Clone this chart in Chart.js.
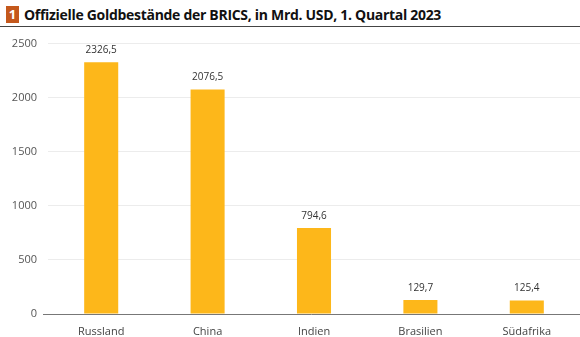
<!DOCTYPE html>
<html lang="de">
<head>
<meta charset="utf-8">
<script src="https://cdn.jsdelivr.net/npm/chart.js@4/dist/chart.umd.min.js"></script>
<style>
  body { margin: 0; background: #fff; width: 580px; height: 337px; overflow: hidden; font-family: "Open Sans", sans-serif; }
  #title { position: absolute; left: 6px; top: 4px; height: 20px; display: flex; align-items: center; white-space: nowrap; }
  #title .num { display: inline-block; width: 13px; height: 17px; background: #c4581c; color: #fff; font-weight: bold; font-size: 13px; line-height: 17px; text-align: center; margin-right: 5px; }
  #title .txt { font-weight: bold; font-size: 14px; color: #111; letter-spacing: -0.3px; }
  #rule { position: absolute; left: 0; top: 26px; width: 580px; height: 1px; background: #444; }
  #wrap { position: absolute; left: 0; top: 26px; width: 580px; height: 311px; }
</style>
</head>
<body>
<div id="title"><span class="num">1</span><span class="txt">Offizielle Goldbestände der BRICS, in Mrd. USD, 1. Quartal 2023</span></div>
<div id="rule"></div>
<div id="wrap"><canvas id="chart"></canvas></div>
<script>
const countries = ['Russland', 'China', 'Indien', 'Brasilien', 'Südafrika'];
const goldReserves = [2326.5, 2076.5, 794.6, 129.7, 125.4];
const yTicks = [0, 500, 1000, 1500, 2000, 2500];

const fmt = v => v.toFixed(1).replace('.', ',');

// value labels above each bar
const valueLabels = {
    id: 'valueLabels',
    afterDatasetsDraw(chart) {
        const ctx = chart.ctx;
        const meta = chart.getDatasetMeta(0);
        ctx.save();
        ctx.font = '10px "Open Sans"';
        ctx.fillStyle = '#333';
        ctx.textAlign = 'center';
        ctx.textBaseline = 'bottom';
        meta.data.forEach((bar, i) => {
            ctx.fillText(fmt(goldReserves[i]), bar.x, bar.y - 7);
        });
        ctx.restore();
    }
};

// baseline, a bit longer than the grid lines
const baseLine = {
    id: 'baseLine',
    afterDatasetsDraw(chart) {
        const ctx = chart.ctx;
        const y = chart.scales.y.getPixelForValue(0);
        ctx.save();
        ctx.strokeStyle = '#777';
        ctx.lineWidth = 1;
        ctx.beginPath();
        ctx.moveTo(43, Math.round(y) + 0.5);
        ctx.lineTo(chart.chartArea.right, Math.round(y) + 0.5);
        ctx.stroke();
        ctx.restore();
    }
};

new Chart(document.getElementById('chart'), {
    type: 'bar',
    data: {
        labels: countries,
        datasets: [{
            data: goldReserves,
            backgroundColor: '#fdb71a',
            categoryPercentage: 1,
            barPercentage: 0.32
        }]
    },
    options: {
        responsive: true,
        maintainAspectRatio: false,
        animation: false,
        layout: { padding: { top: 9, right: 0, left: 0, bottom: 0 } },
        plugins: { legend: { display: false }, tooltip: { enabled: false } },
        scales: {
            x: {
                grid: { display: false },
                border: { display: false },
                ticks: { color: '#444', font: { family: 'Open Sans', size: 11 }, padding: 3 },
                afterFit(scale) { scale.height = 23; }
            },
            y: {
                min: 0,
                max: 2500,
                afterBuildTicks(scale) { scale.ticks = yTicks.map(v => ({ value: v })); },
                grid: { color: '#ececec', drawTicks: false },
                border: { display: false },
                ticks: {
                    color: '#555',
                    font: { family: 'Open Sans', size: 11 },
                    padding: 11,
                    callback: v => String(v)
                },
                afterFit(scale) { scale.width = 48; }
            }
        }
    },
    plugins: [valueLabels, baseLine]
});
</script>
</body>
</html>
